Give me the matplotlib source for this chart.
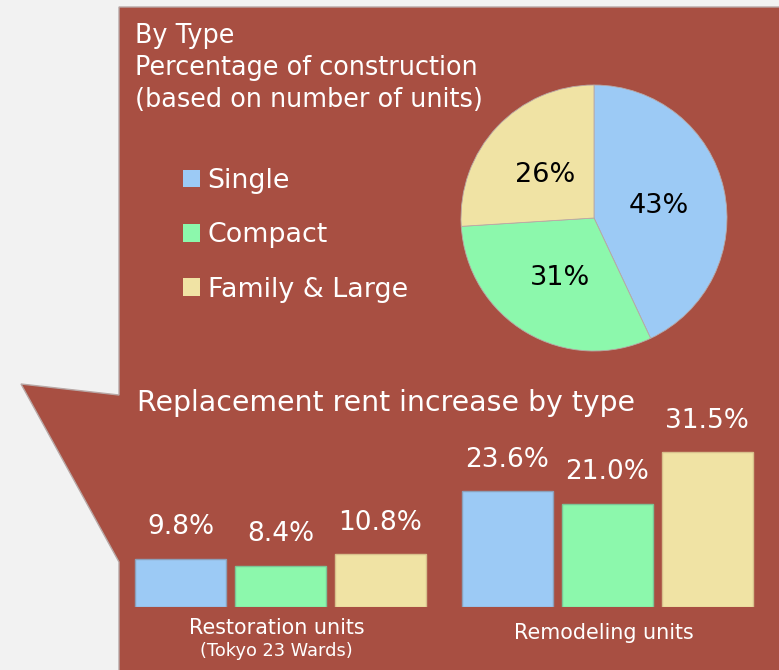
import matplotlib
matplotlib.use("Agg")
import matplotlib.pyplot as plt
from matplotlib.patches import Polygon, Patch
import numpy as np

# ---- data ----
types = ["Single", "Compact", "Family & Large"]
share = [43, 31, 26]
groups = ["Restoration units", "Remodeling units"]
group_sub = ["(Tokyo 23 Wards)", ""]
restoration = [9.8, 8.4, 10.8]
remodeling = [23.6, 21.0, 31.5]
colors = ["#9ccaf5", "#8cf8ac", "#f0e3a4"]
edges = ["#8c9fb8", "#7cc596", "#d8c08c"]

title_lines = ["By Type", "Percentage of construction", "(based on number of units)"]
bar_title = "Replacement rent increase by type"

W, H = 779, 670
DPI = 100
PANEL = "#a84f42"
plt.rcParams['font.family'] = ['DejaVu Sans']

fig = plt.figure(figsize=(W / DPI, H / DPI), dpi=DPI, facecolor="#f2f2f2")

# background panel with callout (pixel coords)
bg = fig.add_axes([0, 0, 1, 1])
bg.set_xlim(0, W)
bg.set_ylim(H, 0)
bg.axis("off")
panel = Polygon([(119, 7), (W + 5, 7), (W + 5, H + 5), (119, H + 5), (119, 562),
                 (21, 384), (119, 395)], closed=True, facecolor=PANEL,
                edgecolor="#b8a8a6", lw=1.0)
bg.add_patch(panel)

for i, line in enumerate(title_lines):
    bg.text(135, 43 + 32 * i, line, color="white", fontsize=18.4,
            va="baseline", ha="left")
bg.text(137, 411, bar_title, color="white", fontsize=20.4, va="baseline", ha="left")

# pie
cx, cy, r = 594, 218, 133
ax_pie = fig.add_axes([(cx - r) / W, (H - cy - r) / H, 2 * r / W, 2 * r / H])
wedges, _, autotexts = ax_pie.pie(share, colors=colors, startangle=90, counterclock=False,
                                  autopct="%d%%", pctdistance=0.5,
                                  wedgeprops=dict(edgecolor="#b8a8a6", linewidth=0.6),
                                  textprops=dict(fontsize=19.5, color="black"))
for t, v in zip(autotexts, share):
    t.set_text(f"{v}%")
    t.set_va("center_baseline")
ax_pie.set_xlim(-1, 1)
ax_pie.set_ylim(-1, 1)
ax_pie.set_aspect("equal")
ax_pie.axis("off")

# legend
handles = [Patch(facecolor=c, edgecolor="none") for c in colors]
fig.legend(handles, types, loc="upper left", bbox_to_anchor=(183, 168),
           bbox_transform=bg.transData, frameon=False, fontsize=19.4,
           labelcolor="white", handlelength=0.64, handleheight=0.64,
           handletextpad=0.27, labelspacing=1.05, borderpad=0, borderaxespad=0)

# bars
base_px = 607
axh_px = 200
px_per_unit = 4.92
ax_bar = fig.add_axes([119 / W, (H - base_px) / H, (W - 119) / W, axh_px / H])
ax_bar.set_ylim(0, axh_px / px_per_unit)
ax_bar.set_xlim((119 - 180.5) / 100, (W - 180.5) / 100)
ax_bar.axis("off")
group_offsets = [0, 3.265]
for g, vals in enumerate([restoration, remodeling]):
    xs = group_offsets[g] + np.arange(len(vals))
    bars = ax_bar.bar(xs, vals, width=0.91, color=colors, edgecolor=edges, linewidth=1)
    for x, v in zip(xs, vals):
        ax_bar.annotate(f"{v:.1f}%", (x, v), xytext=(0, 17.5), textcoords="offset points",
                        ha="center", va="baseline", color="white", fontsize=19)
    center = group_offsets[g] + 1
    tr = ax_bar.get_xaxis_transform()
    if group_sub[g]:
        ax_bar.text(center - 0.04, -21 / axh_px, groups[g], transform=tr, ha="center",
                    va="center", color="white", fontsize=14.9)
        ax_bar.text(center - 0.04, -44 / axh_px, group_sub[g], transform=tr, ha="center",
                    va="center", color="white", fontsize=12.8)
    else:
        ax_bar.text(center - 0.03, -26 / axh_px, groups[g], transform=tr, ha="center",
                    va="center", color="white", fontsize=14.9)

fig.savefig("out.png", dpi=DPI, facecolor=fig.get_facecolor())
